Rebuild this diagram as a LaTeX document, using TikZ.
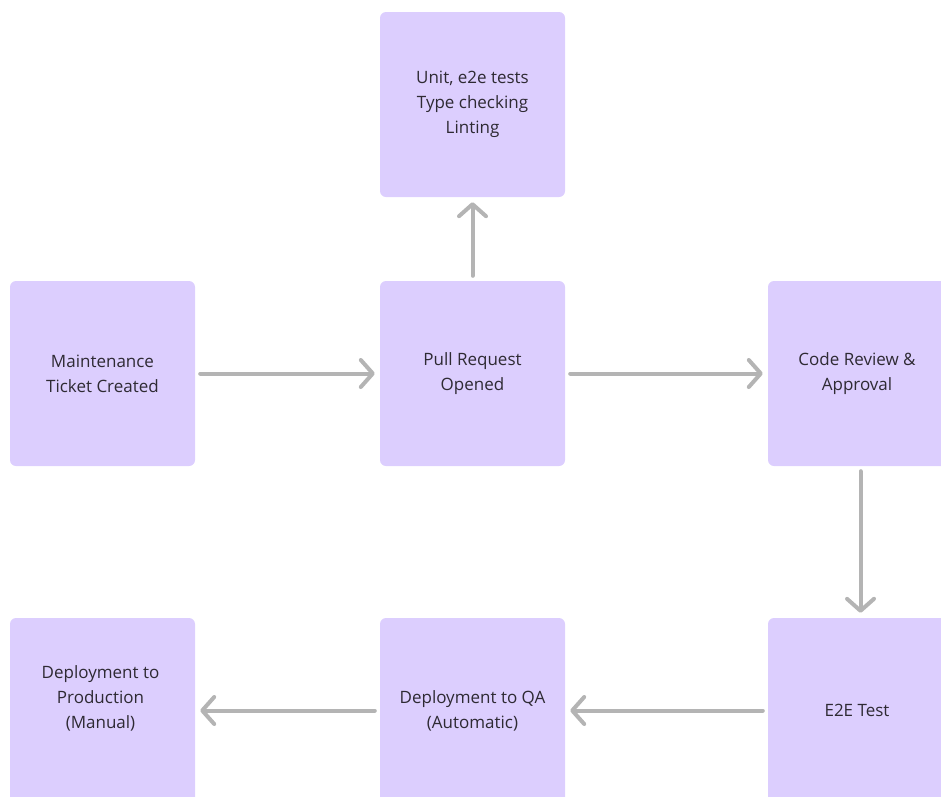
\documentclass[tikz,border=0pt]{standalone}
\usepackage{fontspec}
\setmainfont{Open Sans}
\usetikzlibrary{arrows.meta,positioning}
\definecolor{boxfill}{HTML}{DCCEFE}
\definecolor{linegray}{HTML}{B4B4B4}
\definecolor{txt}{HTML}{2E2A33}
\tikzset{
  label/.style={text=txt, align=center, font=\fontsize{17}{25}\selectfont},
  stage/.style={label, fill=boxfill, rounded corners=6pt, minimum width=185pt, minimum height=185pt,
    inner sep=0pt},
  flow/.style={draw=linegray, line width=4pt, line cap=round,
    -{Straight Barb[length=12pt,width=27pt,line cap=round,line join=round]},
    shorten >=5pt, shorten <=5pt}
}
\begin{document}
\begin{tikzpicture}[x=1pt,y=1pt]
  \useasboundingbox (0,0) rectangle (941,-796);
  \clip (0,0) rectangle (941,-796);
  %% stages
  \node[stage] (checks) at (472.5,-104.5) {Unit, e2e tests\\Type checking\\Linting};
  \node[stage] (maint) at (102.5,-373.5) {Maintenance\\Ticket Created};
  \node[stage] (pr) at (472.5,-373.5) {Pull Request\\Opened};
  \node[stage] (review) at (860.5,-373.5) {};
  \node[label] (reviewtxt) at (857,-373.5) {Code Review \&\\Approval};
  \node[stage] (etest) at (860.5,-710.5) {};
  \node[label] (etesttxt) at (857,-710.5) {E2E Test};
  \node[stage] (qa) at (472.5,-710.5) {Deployment to QA\\(Automatic)};
  \node[stage] (prod) at (102.5,-710.5) {};
  \node[label] (prodtxt) at (100.5,-698) {Deployment to\\Production\\(Manual)};
  %% connectors
  \draw[flow] (maint) -- (pr);
  \draw[flow] (pr) -- (checks);
  \draw[flow] (pr) -- (review.west |- pr);
  \draw[flow] (review) -- (etest);
  \draw[flow] (etest.west) -- (qa);
  \draw[flow] (qa) -- (prod);
\end{tikzpicture}
\end{document}
